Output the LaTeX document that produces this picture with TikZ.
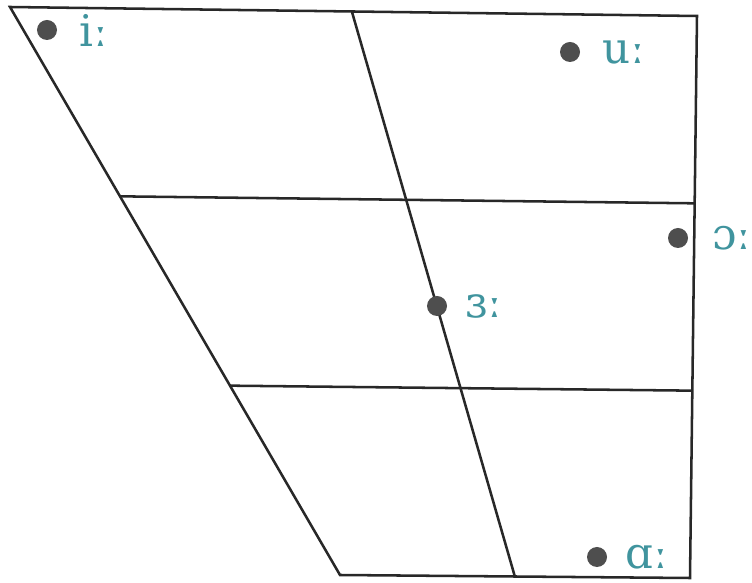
\documentclass[tikz,border=0pt]{standalone}
\usepackage{fontspec}
\newfontfamily\ipafont{DejaVu Serif}
\usetikzlibrary{positioning,calc}
\definecolor{ChartLine}{RGB}{40,40,40}
\definecolor{DotGrey}{RGB}{78,78,78}
\definecolor{VowelTeal}{RGB}{64,148,158}
\tikzset{
  chart/.style={line width=1.8pt,draw=ChartLine},
  vdot/.style={circle,fill=DotGrey,inner sep=0pt,minimum size=0.5cm},
  vlabel/.style={text=VowelTeal,font=\ipafont\fontsize{31}{33}\selectfont,
    inner sep=0pt}
}

\begin{document}
\begin{tikzpicture}[x=0.025cm,y=-0.025cm,node distance=0.55cm]
  \useasboundingbox (0,0) rectangle (752,583);
  \coordinate (tl) at (10,7);
  \coordinate (tm) at (352,12);
  \coordinate (tr) at (697,16);
  \coordinate (bl) at (340,575);
  \coordinate (bm) at (515,577);
  \coordinate (br) at (690,578);
  \coordinate (ul) at ($(tl)!1/3!(bl)$);
  \coordinate (ur) at ($(tr)!1/3!(br)$);
  \coordinate (ll) at ($(tl)!2/3!(bl)$);
  \coordinate (lr) at ($(tr)!2/3!(br)$);
  \draw[chart] (tl) -- (tr) -- (br) -- (bl) -- cycle;
  \draw[chart] (tm) -- (bm);
  \draw[chart] (ul) -- (ur);
  \draw[chart] (ll) -- (lr);

  \node[vdot] (i) at (47,30) {};
  \node[vdot] (u) at (570,52) {};
  \node[vdot] (o) at (678,238) {};
  \node[vdot] (e) at (437,306) {};
  \node[vdot] (a) at (597,557) {};
  \node[vlabel,right=of i] (il) {iː};
  \node[vlabel,right=0.55cm of u] (ul) {uː};
  \node[vlabel,right=0.6cm of o] (ol) {ɔː};
  \node[vlabel,right=0.45cm of e] (el) {ɜː};
  \node[vlabel,right=0.45cm of a] (al) {ɑː};
\end{tikzpicture}
\end{document}
